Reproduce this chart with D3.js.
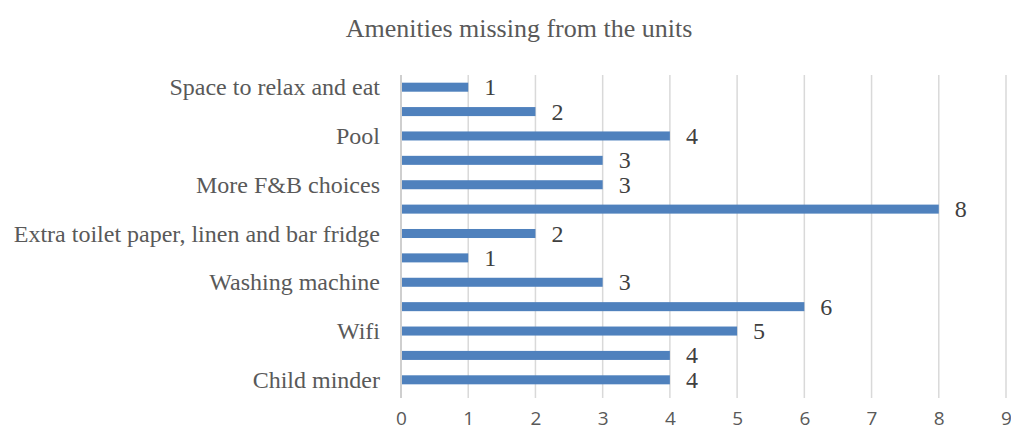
<!DOCTYPE html>
<html>
<head>
<meta charset="utf-8">
<script src="https://cdn.jsdelivr.net/npm/d3@7"></script>
<style>
  body { margin: 0; background: #fff; }
  svg { display: block; }
</style>
</head>
<body>
<div id="chart"></div>
<script>
// categories bottom to top, as in the sheet; blank ones have no label shown on the axis
var categories = ["Child minder", "", "Wifi", "", "Washing machine", "",
    "Extra toilet paper, linen and bar fridge", "", "More F&B choices", "",
    "Pool", "", "Space to relax and eat"];
var counts = [4, 4, 5, 6, 3, 1, 2, 8, 3, 3, 4, 2, 1];
var xTicks = [0, 1, 2, 3, 4, 5, 6, 7, 8, 9];
var title = "Amenities missing from the units";

var width = 1011, height = 431;
var margin = {left: 401, right: 5, top: 75, bottom: 39};
var serif = "'Liberation Serif', 'Times New Roman', serif";

var svg = d3.select("#chart").append("svg")
    .attr("width", width).attr("height", height);

svg.append("text")
    .attr("x", 519).attr("y", 37)
    .attr("text-anchor", "middle")
    .style("font-family", serif)
    .style("font-size", "26px")
    .style("fill", "#595959")
    .text(title);

var x = d3.scaleLinear().domain([0, 9])
    .range([margin.left, width - margin.right]);

var idx = d3.range(categories.length);
var y = d3.scaleBand().domain(idx.slice().reverse())
    .range([margin.top, height - margin.bottom])
    .paddingInner(0.63).paddingOuter(0.315);

// gridlines
svg.append("g").selectAll("line")
    .data(xTicks.slice(1))
    .enter().append("line")
    .attr("x1", function(d) { return x(d); })
    .attr("x2", function(d) { return x(d); })
    .attr("y1", margin.top)
    .attr("y2", height - margin.bottom + 6)
    .style("stroke", "#d9d9d9")
    .style("stroke-width", 1.5);

// category axis line
svg.append("line")
    .attr("x1", x(0)).attr("x2", x(0))
    .attr("y1", margin.top).attr("y2", height - margin.bottom + 6)
    .style("stroke", "#bfbfbf")
    .style("stroke-width", 1.5);

// bars
svg.append("g").selectAll("rect")
    .data(idx)
    .enter().append("rect")
    .attr("x", x(0) + 1)
    .attr("y", function(i) { return y(i); })
    .attr("width", function(i) { return x(counts[i]) - x(0) - 1; })
    .attr("height", y.bandwidth())
    .attr("fill", "#4f81bd");

// data labels
svg.append("g").selectAll("text")
    .data(idx)
    .enter().append("text")
    .attr("x", function(i) { return x(counts[i]) + 16; })
    .attr("y", function(i) { return y(i) + y.bandwidth() / 2 + 8; })
    .style("font-family", serif)
    .style("font-size", "24px")
    .style("fill", "#404040")
    .text(function(i) { return counts[i]; });

// category labels
svg.append("g").selectAll("text")
    .data(idx.filter(function(i) { return categories[i] !== ""; }))
    .enter().append("text")
    .attr("x", 380)
    .attr("y", function(i) { return y(i) + y.bandwidth() / 2 + 8; })
    .attr("text-anchor", "end")
    .style("font-family", serif)
    .style("font-size", "24px")
    .style("fill", "#595959")
    .text(function(i) { return categories[i]; });

// value axis labels
var xAxis = svg.append("g")
    .attr("transform", "translate(0," + (height - margin.bottom) + ")")
    .call(d3.axisBottom(x).tickValues(xTicks).tickSize(0));
xAxis.select(".domain").remove();
xAxis.selectAll("text")
    .attr("y", 33).attr("dy", null)
    .style("font-family", "'Open Sans', 'Liberation Sans', sans-serif")
    .style("font-size", "19px")
    .style("fill", "#595959");
</script>
</body>
</html>
